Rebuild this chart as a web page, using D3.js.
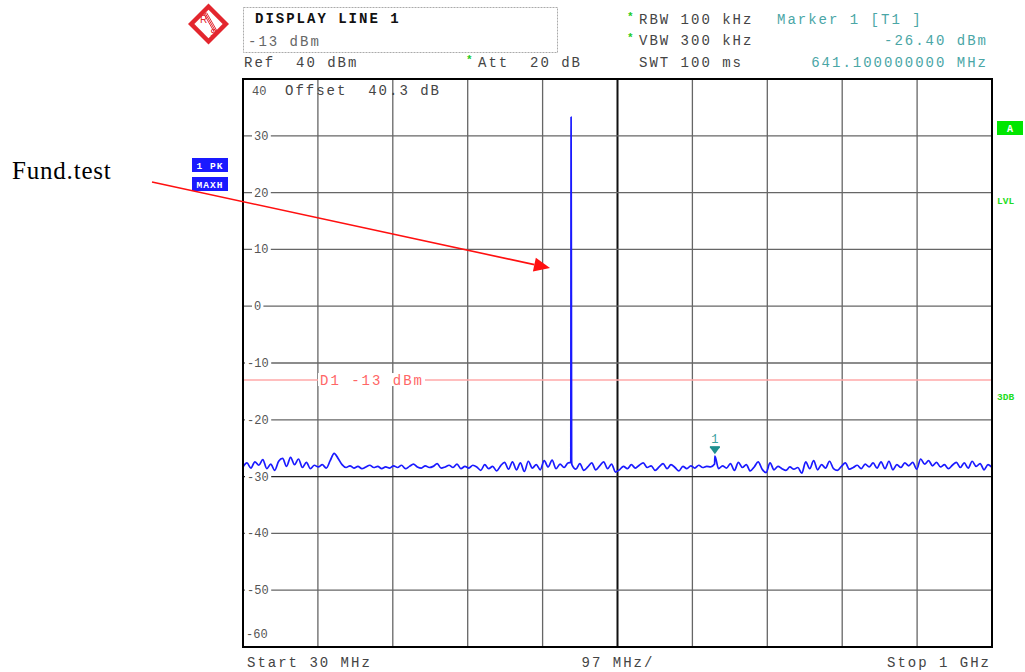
<!DOCTYPE html>
<html><head><meta charset="utf-8">
<script src="https://cdn.jsdelivr.net/npm/d3@7"></script>
<style>
html,body{margin:0;padding:0;background:#fff;}
svg text{font-family:"Liberation Mono","DejaVu Sans Mono",monospace;}
svg text.serif{font-family:"Liberation Serif","DejaVu Serif",serif;}
svg text.sans{font-family:"Liberation Sans","DejaVu Sans",sans-serif;}
</style></head>
<body>
<svg id="c" width="1025" height="672"></svg>
<script>
// ---- data ----
const freqStart = 30, freqStop = 1000, freqPerDiv = 97;
const levelTop = 40, levelBottom = -60;
const levelTicks = [30, 20, 10, 0, -10, -20, -30, -40, -50];
const displayLine = -13;
const markerFreq = 641.1, markerLevel = -26.4;
const peakFreqs = [454.5, 454.9, 455.3, 455.6];
const peakLevels = [-27.5, 33.3, 2.0, -27.0];
const noiseLevels = [
 -28.3,-27.6,-28.5,-27.4,-28.0,-27.0,-28.6,-27.8,-28.9,-27.3,-26.8,-28.2,-26.6,-27.9,-26.9,-28.4,-27.5,-28.6,-28.0,-28.3,-27.9,-28.5,
 -27.2,-25.9,-26.8,-27.9,
 -28.4,-28.1,-28.5,-28.2,-28.6,-28.3,-28.0,-28.4,-28.2,-28.6,-28.3,-28.5,-28.1,-28.4,-28.0,-28.6,-28.2,-27.8,-28.3,-28.5,-28.1,-28.4,-28.2,-27.7,-28.5,-28.3,-28.0,-28.4,-27.8,-28.6,-28.2,-28.5,-28.0,-28.3,
 -28.9,-27.9,-28.6,-28.2,-29.0,-28.1,-27.5,-28.7,-27.4,-28.8,-27.6,-29.1,-27.3,-28.5,-27.9,-28.8,-27.2,-28.3,-27.1,-28.6,-27.8,-28.4,-27.6,
 -27.9,-28.7,-27.7,-28.9,-28.3,-27.6,-28.8,-28.1,-27.4,-28.6,-27.8,-29.2,
 -28.8,-28.2,-28.6,-27.9,-28.5,-28.0,-27.6,-28.4,-28.1,-28.9,-28.3,-27.7,-28.6,-27.9,-28.4,-29.0,-28.2,-28.6,-28.1,-28.5,-28.0,-28.4,-28.2,-28.3,
 -27.8,-28.6,-28.1,-28.5,-27.7,-28.9,-27.5,-28.4,-27.9,-29.0,-28.3,-27.4,-28.7,-29.3,-27.6,-28.8,-28.2,-28.6,-28.9,-28.3,-28.7,-28.4,
 -29.4,-27.4,-28.6,-27.2,-28.8,-27.9,-28.5,-27.3,-28.6,-28.9,-28.2,-27.6,-28.7,-28.4,-28.0,-28.6,-27.8,-28.3,-27.6,-28.5,-27.4,-28.6,-27.3,-28.8,-27.9,-28.4,-27.6,-28.1,-27.5,-28.7,
 -26.9,-27.8,-27.2,-28.1,-27.5,-28.3,-27.9,-28.6,-28.0,-27.5,-28.4,-27.6,-28.5,-27.3,-28.2,-27.7,-28.8,-27.9,-28.4
];
const headerLeft = ["DISPLAY LINE 1", "-13 dBm"];
const settingsRows = [["RBW 100 kHz", true], ["VBW 300 kHz", true], ["SWT 100 ms", false]];
const markerRows = ["Marker 1 [T1 ]", "-26.40 dBm", "641.100000000 MHz"];
const bottomLabels = ["Start 30 MHz", "97 MHz/", "Stop 1 GHz"];

// ---- layout ----
const L = 243, R = 992, T = 79, B = 647;
const svg = d3.select("#c");
const x = d3.scaleLinear().domain([freqStart, freqStop]).range([L, R]);
const y = d3.scaleLinear().domain([levelBottom, levelTop]).range([B, T]);
function txt(g, s, px, py, opt) {
  const t = g.append("text").attr("x", px).attr("y", py).text(s)
    .attr("font-size", "14px").attr("letter-spacing", "2px").attr("fill", "#444")
    .style("white-space", "pre");
  if (opt) Object.entries(opt).forEach(([k, v]) => t.attr(k, v));
  return t;
}

// R&S logo
const logo = svg.append("g").attr("transform", "translate(208.5,24)");
logo.append("rect").attr("x", -14.5).attr("y", -14.5).attr("width", 29).attr("height", 29)
  .attr("transform", "rotate(45)").attr("fill", "#e3262e");
logo.append("rect").attr("x", -10).attr("y", -10).attr("width", 20).attr("height", 20)
  .attr("transform", "rotate(45)").attr("fill", "#fff");
[-2, 0, 2].forEach(o => logo.append("line").attr("x1", -4 + o).attr("y1", -12 + o * 0.3)
  .attr("x2", 8 + o).attr("y2", 9 + o * 0.3).attr("stroke", "#e3262e").attr("stroke-width", 1));
logo.append("text").attr("class", "sans").attr("x", -5).attr("y", -1).text("R")
  .attr("font-size", "10px").attr("fill", "#e3262e").attr("text-anchor", "middle");
logo.append("text").attr("class", "sans").attr("x", 5).attr("y", 13).text("S")
  .attr("font-size", "10px").attr("fill", "#e3262e").attr("text-anchor", "middle");

// header box
svg.append("rect").attr("x", 243.5).attr("y", 7.5).attr("width", 314).attr("height", 45)
  .attr("fill", "none").attr("stroke", "#aaa").attr("stroke-dasharray", "2,1");
txt(svg, headerLeft[0], 255, 23, {"font-weight": "bold", "fill": "#111"});
txt(svg, headerLeft[1], 248, 46, {"fill": "#666"});
txt(svg, "Ref  40 dBm", 244, 67);
svg.append("text").attr("x", 466).attr("y", 63).text("*").attr("font-size", "11px").attr("fill", "#22cc22").attr("font-weight", "bold");
txt(svg, "Att  20 dB", 478, 67);
settingsRows.forEach((r, i) => {
  const py = [24, 45, 67][i];
  if (r[1]) svg.append("text").attr("x", 627).attr("y", py - 4).text("*").attr("font-size", "11px").attr("fill", "#22cc22").attr("font-weight", "bold");
  txt(svg, r[0], 639, py);
});
txt(svg, markerRows[0], 777, 24, {"fill": "#4aa6a6"});
txt(svg, markerRows[1], 988, 45, {"fill": "#4aa6a6", "text-anchor": "end"});
txt(svg, markerRows[2], 988, 67, {"fill": "#4aa6a6", "text-anchor": "end"});

// grid
const grid = svg.append("g");
const vTicks = d3.range(0, 11).map(i => freqStart + i * freqPerDiv);
grid.selectAll("line.v").data(vTicks.slice(1, 10)).join("line")
  .attr("x1", d => x(d)).attr("x2", d => x(d)).attr("y1", T).attr("y2", B)
  .attr("stroke", (d, i) => i === 4 ? "#111" : "#666").attr("stroke-width", (d, i) => i === 4 ? 2 : 1.3);
grid.selectAll("line.h").data(levelTicks).join("line")
  .attr("x1", L).attr("x2", R).attr("y1", d => y(d)).attr("y2", d => y(d))
  .attr("stroke", d => d === -30 ? "#222" : "#666").attr("stroke-width", 1.3);

// display line
svg.append("line").attr("x1", L).attr("x2", R).attr("y1", y(displayLine)).attr("y2", y(displayLine))
  .attr("stroke", "#ffa8a8").attr("stroke-width", 1.5);
svg.append("rect").attr("x", 318).attr("y", y(displayLine) - 7).attr("width", 107).attr("height", 13).attr("fill", "#fff");
txt(svg, "D1 -13 dBm", 320, y(displayLine) + 5, {"fill": "#ff6666"});

// y labels
const ylab = svg.append("g");
levelTicks.forEach(v => {
  const s = String(v);
  const px = v < 0 ? 247 : 254;
  const w = s.length * 7.4;
  ylab.append("rect").attr("x", px - 2).attr("y", y(v) - 6).attr("width", w + 4).attr("height", 11).attr("fill", "#fff");
  ylab.append("text").attr("x", px).attr("y", y(v) + 4).text(s).attr("font-size", "12px").attr("fill", "#555");
});
ylab.append("text").attr("x", 252).attr("y", 95).text("40").attr("font-size", "12px").attr("fill", "#555");
ylab.append("text").attr("x", 246).attr("y", 638).text("-60").attr("font-size", "12px").attr("fill", "#555");
txt(svg, "Offset  40.3 dB", 285, 95, {"fill": "#444"});

// trace
const trace = noiseLevels.map((v, i) => ({f: freqStart + i * (freqStop - freqStart) / (noiseLevels.length - 1), v}));
peakFreqs.forEach((f, i) => trace.push({f, v: peakLevels[i]}));
trace.push({f: markerFreq, v: markerLevel});
trace.sort((a, b) => a.f - b.f);
svg.append("path").datum(trace)
  .attr("d", d3.line().curve(d3.curveMonotoneX).x(d => x(d.f)).y(d => y(d.v)))
  .attr("fill", "none").attr("stroke", "#1a1aff").attr("stroke-width", 1.7).attr("stroke-linejoin", "round");

// marker
const mx = x(markerFreq), my = y(markerLevel);
svg.append("path").attr("d", `M${mx - 5},${my - 9}L${mx + 5},${my - 9}L${mx},${my - 2}Z`).attr("fill", "#1f8f8f");
svg.append("rect").attr("x", mx - 5).attr("y", my - 10).attr("width", 10).attr("height", 2).attr("fill", "#1f8f8f");
svg.append("text").attr("x", mx).attr("y", my - 13).text("1").attr("font-size", "12px").attr("fill", "#3aa0a0").attr("text-anchor", "middle");

// frame
svg.append("rect").attr("x", L).attr("y", T).attr("width", R - L).attr("height", B - T)
  .attr("fill", "none").attr("stroke", "#000").attr("stroke-width", 2);

// bottom labels
txt(svg, bottomLabels[0], 247, 667);
txt(svg, bottomLabels[1], 618, 667, {"text-anchor": "middle"});
txt(svg, bottomLabels[2], 991, 667, {"text-anchor": "end"});

// left trace boxes
[["1 PK", 158], ["MAXH", 177]].forEach(([s, py]) => {
  svg.append("rect").attr("x", 192).attr("y", py).attr("width", 36).attr("height", 14).attr("fill", "#1a1aff");
  svg.append("text").attr("x", 210).attr("y", py + 10.5).text(s).attr("font-size", "9.5px").attr("font-weight", "bold")
    .attr("fill", "#fff").attr("text-anchor", "middle").attr("letter-spacing", "1px").style("white-space", "pre");
});

// right side indicators
svg.append("rect").attr("x", 997).attr("y", 121).attr("width", 26).attr("height", 14).attr("fill", "#00e600");
svg.append("text").attr("x", 1010).attr("y", 132).text("A").attr("font-size", "10px").attr("font-weight", "bold").attr("fill", "#fff").attr("text-anchor", "middle");
svg.append("text").attr("x", 997).attr("y", 204).text("LVL").attr("font-size", "9.5px").attr("font-weight", "bold").attr("fill", "#22dd22");
svg.append("text").attr("x", 997).attr("y", 400).text("3DB").attr("font-size", "9.5px").attr("font-weight", "bold").attr("fill", "#22dd22");

// annotation
svg.append("text").attr("class", "serif").attr("x", 12).attr("y", 179).text("Fund.test")
  .attr("font-size", "25px").attr("letter-spacing", "0.8px").attr("fill", "#000");
const ax1 = 152, ay1 = 182, ax2 = 550, ay2 = 268;
const ang = Math.atan2(ay2 - ay1, ax2 - ax1);
const hl = 16, hw = 7;
const bx = ax2 - hl * Math.cos(ang), by = ay2 - hl * Math.sin(ang);
svg.append("line").attr("x1", ax1).attr("y1", ay1).attr("x2", bx).attr("y2", by).attr("stroke", "#ff1010").attr("stroke-width", 1.6);
svg.append("path").attr("d", `M${ax2},${ay2}L${bx - hw * Math.sin(ang)},${by + hw * Math.cos(ang)}L${bx + hw * Math.sin(ang)},${by - hw * Math.cos(ang)}Z`)
  .attr("fill", "#ff1010");
</script>
</body></html>
